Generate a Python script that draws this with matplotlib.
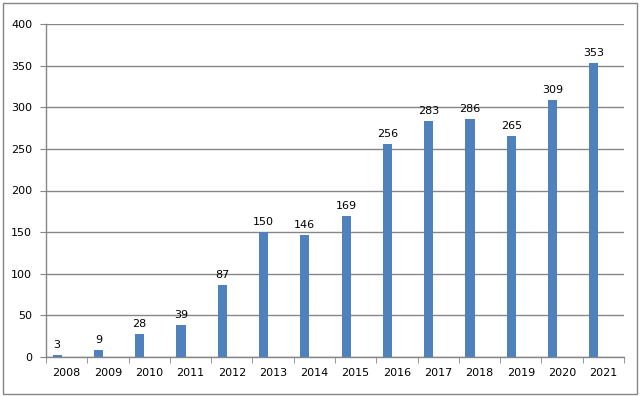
import matplotlib
matplotlib.use("Agg")
import matplotlib.pyplot as plt
from matplotlib.patches import Rectangle
import numpy as np

years = ["2008", "2009", "2010", "2011", "2012", "2013", "2014", "2015",
         "2016", "2017", "2018", "2019", "2020", "2021"]
values = [3, 9, 28, 39, 87, 150, 146, 169, 256, 283, 286, 265, 309, 353]

W, H = 640, 396
fig = plt.figure(figsize=(W / 100, H / 100), dpi=100)
ax = fig.add_axes([46 / W, 1 - 357 / H, (624 - 46) / W, (357 - 24) / H])

grey = "#868686"
x = np.arange(len(years))
offset = -0.23
bars = ax.bar(x + offset, values, width=0.22, color="#4F81BD", zorder=3)
for xi, v in zip(x, values):
    ax.text(xi + offset, v + 6, str(v), ha="center", va="bottom",
            fontsize=8, color="black")

ax.set_xlim(-0.5, len(years) - 0.5)
ax.set_ylim(0, 400)
ax.set_yticks(np.arange(0, 401, 50))
ax.yaxis.grid(True, color=grey, linewidth=1)
ax.set_axisbelow(True)

ax.set_xticks(x)
ax.set_xticklabels(years, fontsize=8)
ax.set_xticks(np.arange(-0.5, len(years), 1), minor=True)
ax.tick_params(axis="x", which="major", length=0, pad=8)
ax.tick_params(axis="x", which="minor", length=4, color=grey, direction="out")
ax.tick_params(axis="y", labelsize=8, length=4, color=grey, pad=6)

for s in ["top", "right"]:
    ax.spines[s].set_visible(False)
for s in ["left", "bottom"]:
    ax.spines[s].set_color(grey)
    ax.spines[s].set_linewidth(1)

fig.patches.append(Rectangle((2.5 / W, 2.5 / H), (637 - 2.5) / W, (393.5 - 2.5) / H,
                             transform=fig.transFigure, fill=False,
                             edgecolor=grey, linewidth=1))

fig.savefig("out.png", dpi=100)
